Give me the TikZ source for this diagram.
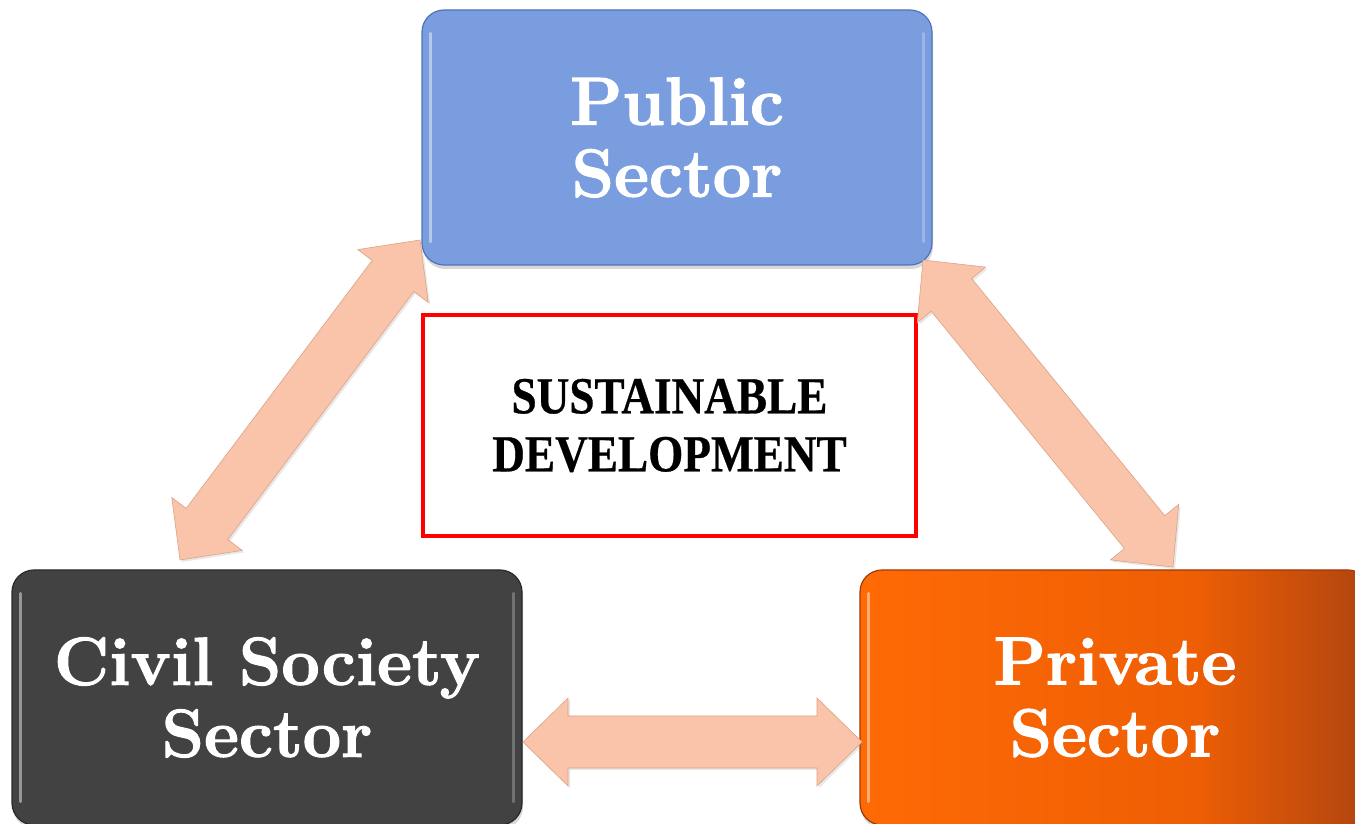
\documentclass[tikz,border=0pt]{standalone}
\usepackage{fontspec}
\usepackage{graphicx}
\newfontfamily\sdfont{Liberation Serif}[BoldFeatures={FakeBold=0.6}]
\newfontfamily\secfamily{Latin Modern Roman}[BoldFeatures={FakeBold=1.6}]
\usetikzlibrary{calc,shadows}

\definecolor{pubblue}{HTML}{7A9DE0}
\definecolor{pubedge}{HTML}{5272B8}
\definecolor{civgray}{HTML}{424242}
\definecolor{civedge}{HTML}{2A2A2A}
\definecolor{privL}{HTML}{FF6A05}
\definecolor{privM}{HTML}{EE5E04}
\definecolor{privR}{HTML}{B04410}
\definecolor{privedge}{HTML}{A03A08}
\definecolor{arrowfill}{HTML}{F9C4A9}
\definecolor{arrowedge}{HTML}{DDA284}

\pgfdeclarehorizontalshading{privshade}{100bp}{color(0bp)=(privL); color(25bp)=(privL);
  color(58bp)=(privM); color(75bp)=(privR); color(100bp)=(privR)}

\newcommand\sectorfont{\secfamily\bfseries\fontsize{68}{72}\selectfont}
\newcommand\hl{45pt}
\newcommand\hw{44pt}
\newcommand\sw{26pt}

\newcommand\dblarrow[2]{%
  \draw[blockarrow] let \p1=(#1), \p2=(#2), \n1={atan2(\y2-\y1,\x2-\x1)} in
    (#1) -- ($(#1)+(\n1:\hl)+(\n1+90:\hw)$) -- ($(#1)+(\n1:\hl)+(\n1+90:\sw)$)
    -- ($(#2)+(\n1:-\hl)+(\n1+90:\sw)$) -- ($(#2)+(\n1:-\hl)+(\n1+90:\hw)$)
    -- (#2) -- ($(#2)+(\n1:-\hl)+(\n1-90:\hw)$) -- ($(#2)+(\n1:-\hl)+(\n1-90:\sw)$)
    -- ($(#1)+(\n1:\hl)+(\n1-90:\sw)$) -- ($(#1)+(\n1:\hl)+(\n1-90:\hw)$) -- cycle;
}

\tikzset{
  sector/.style={rounded corners=22pt, minimum width=510pt, minimum height=255pt,
    align=center, text=white, font=\sectorfont, inner sep=0pt, line width=1.2pt,
    drop shadow={shadow xshift=1pt, shadow yshift=-4pt, opacity=0.3}},
  blockarrow/.style={fill=arrowfill, draw=arrowedge, line width=0.6pt, line join=miter,
    drop shadow={shadow xshift=2pt, shadow yshift=-2pt, opacity=0.18}},
  bevel/.style={white, opacity=0.45, line width=3pt, line cap=round},
  sdbox/.style={draw=red, line width=4pt, minimum width=493pt, minimum height=221pt,
    align=center, inner sep=0pt, font=\sdfont\bfseries\fontsize{52}{58}\selectfont}
}

\begin{document}
\begin{tikzpicture}[x=1pt,y=1pt]
  \useasboundingbox (0,0) rectangle (1355,824);
  \clip (0,0) rectangle (1355,824);
  \fill[white] (0,0) rectangle (1355,824);

  % sector boxes
  \node[sector, fill=pubblue, draw=pubedge] (pub) at (677,686.5) {Public\\Sector};
  \node[sector, fill=civgray, draw=civedge] (civ) at (267,126.5) {Civil Society\\Sector};
  \node[sector, shading=privshade, draw=privedge] (priv) at (1115,126.5) {Private\\Sector};

  % bevel highlights
  \foreach \b in {pub,civ,priv}{
    \draw[bevel] ($(\b.north west)+(9,-24)$) -- ($(\b.south west)+(9,24)$);
    \draw[bevel, opacity=0.25] ($(\b.north east)+(-9,-24)$) -- ($(\b.south east)+(-9,24)$);
  }

  % central box
  \node[sdbox] (sd) at (669.5,398.5)
    {\scalebox{0.87}[1]{SUSTAINABLE}\\\scalebox{0.87}[1]{DEVELOPMENT}};

  % arrow end points
  \coordinate (l1) at (180,264);
  \coordinate (l2) at (420,584);
  \coordinate (r1) at (923,564);
  \coordinate (r2) at (1173,257);
  \coordinate (h1) at (523,82);
  \coordinate (h2) at (862,82);

  \dblarrow{l1}{l2}
  \dblarrow{r1}{r2}
  \dblarrow{h1}{h2}
\end{tikzpicture}
\end{document}
